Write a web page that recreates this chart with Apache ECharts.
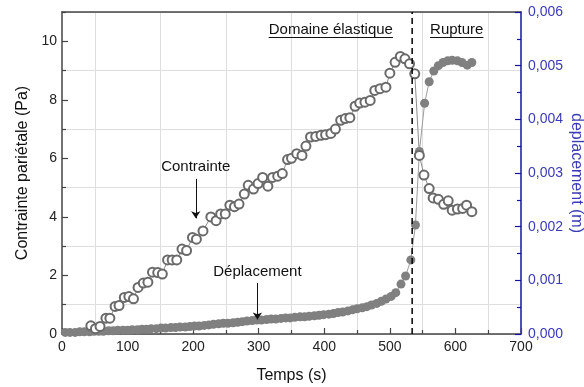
<!DOCTYPE html>
<html>
<head>
<meta charset="utf-8">
<script src="https://cdn.jsdelivr.net/npm/echarts@6/dist/echarts.min.js"></script>
<style>
  html, body { margin: 0; padding: 0; background: #ffffff; }
  #chart { width: 584px; height: 387px; }
</style>
</head>
<body>
<div id="chart"></div>
<script>
// Contrainte pariétale (Pa) en fonction du temps (s)
const contrainteTemps = [44, 51, 58, 67, 73, 81, 87, 95, 102, 109, 116, 124, 131, 138, 146, 153, 161, 168, 175,
  183, 190, 199, 205, 215, 227, 235, 242, 249, 256, 263, 270, 278, 284, 292, 299, 306, 314, 321, 329, 336,
  344, 350, 358, 366, 372, 379, 387, 395, 402, 410, 417, 425, 432, 439, 447, 454, 462, 470, 477, 485, 494,
  500, 508, 516, 523, 530, 538, 545, 552, 560, 566, 574, 582, 589, 595, 603, 611, 617, 625];
const contrainteValeurs = [0.28, 0.18, 0.26, 0.54, 0.54, 0.94, 0.97, 1.25, 1.28, 1.2, 1.59, 1.74, 1.77, 2.11, 2.1, 2.05, 2.53, 2.53, 2.53,
  2.9, 2.85, 3.3, 3.24, 3.52, 4.0, 3.87, 4.1, 4.1, 4.4, 4.35, 4.44, 4.78, 5.08, 4.95, 5.14, 5.35, 5.05, 5.35, 5.39, 5.48,
  5.96, 6.0, 6.16, 6.1, 6.42, 6.73, 6.75, 6.79, 6.81, 6.85, 7.0, 7.3, 7.36, 7.39, 7.78, 7.89, 7.92, 7.98, 8.32, 8.38, 8.43,
  8.91, 9.28, 9.48, 9.4, 9.23, 8.89, 6.1, 5.43, 4.97, 4.65, 4.6, 4.43, 4.55, 4.23, 4.27, 4.29, 4.4, 4.18];

// Déplacement (m) en fonction du temps (s)
const deplTemps = [5, 12, 20, 27, 34, 42, 49, 56, 63, 71, 78, 85, 93, 100, 107, 115, 122, 129, 136, 144,
  151, 158, 166, 173, 180, 188, 195, 202, 209, 217, 224, 231, 239, 246, 253, 261, 268, 275, 282, 290,
  297, 304, 312, 319, 326, 334, 341, 348, 355, 363, 370, 377, 385, 392, 399, 407, 414, 421, 428, 436,
  443, 450, 458, 465, 472, 480, 487, 494, 502, 509, 517, 524, 532, 539, 545, 553, 560, 567, 574, 581,
  588, 595, 603, 610, 618, 625];
const deplValeurs = [0.00003, 0.00003, 0.00003, 0.00004, 0.00004, 0.00004, 0.00005, 0.00005, 0.00005, 0.00006,
  0.00006, 0.00007, 0.00007, 0.00007, 0.00008, 0.00008, 0.00009, 0.00009, 0.0001, 0.0001,
  0.00011, 0.00011, 0.00012, 0.00012, 0.00013, 0.00013, 0.00014, 0.00015, 0.00015, 0.00016,
  0.00017, 0.00018, 0.00019, 0.0002, 0.0002, 0.00021, 0.00022, 0.00023, 0.00024, 0.00025,
  0.00026, 0.00026, 0.00027, 0.00028, 0.00028, 0.00029, 0.0003, 0.0003, 0.00031, 0.00032,
  0.00032, 0.00033, 0.00034, 0.00035, 0.00036, 0.00037, 0.00038, 0.0004, 0.00041, 0.00043,
  0.00045, 0.00047, 0.00049, 0.00051, 0.00054, 0.00057, 0.00061, 0.00065, 0.0007, 0.00077,
  0.00093, 0.00108, 0.00138, 0.00203, 0.0034, 0.0043, 0.0047, 0.0049, 0.005, 0.00506,
  0.00509, 0.0051, 0.00509, 0.00506, 0.00501, 0.00506];

// Instant de rupture (s)
const tempsRupture = 534;

// Libellés de l'axe droit
const deplTickLabels = ['0,000', '0,001', '0,002', '0,003', '0,004', '0,005', '0,006'];

// Flèches d'annotation : [temps, début, fin]
const flecheContrainte = [204, 5.3, 3.95];
const flecheDepl = [298, 0.00095, 0.00027];

// Titres des deux domaines : [texte, temps du centre]
const titresDomaines = [['Domaine élastique', 410], ['Rupture', 602]];

const FONT = '"Liberation Sans", Arial, sans-serif';
const AXIS_COLOR = '#444';
const BLUE = '#1414a0';
const BLUE_TEXT = '#3b3bb5';
const GRID_COLOR = '#dedede';

const chart = echarts.init(document.getElementById('chart'), null, { renderer: 'canvas' });

chart.setOption({
  animation: false,
  backgroundColor: '#ffffff',
  textStyle: { fontFamily: FONT },
  grid: { left: 62, right: 63, top: 12, bottom: 53, containLabel: false, outerBoundsMode: 'none' },
  xAxis: [
    {
      type: 'value', position: 'bottom', min: 0, max: 700, interval: 100,
      name: 'Temps (s)', nameLocation: 'middle', nameGap: 34,
      nameTextStyle: { fontSize: 16, color: '#111', fontFamily: FONT },
      axisLine: { show: true, onZero: false, lineStyle: { color: AXIS_COLOR, width: 1.5 } },
      axisTick: { show: true, inside: true, length: 6, lineStyle: { color: AXIS_COLOR, width: 1.2 } },
      minorTick: { show: true, splitNumber: 2, length: 4, lineStyle: { color: AXIS_COLOR, width: 1.2 } },
      minorSplitLine: { show: true, lineStyle: { color: GRID_COLOR, width: 1 } },
      splitLine: { show: false },
      axisLabel: { fontSize: 14, color: '#222', margin: 6, fontFamily: FONT }
    },
    {
      type: 'value', position: 'top', min: 0, max: 700,
      axisLine: { show: true, onZero: false, lineStyle: { color: AXIS_COLOR, width: 1.5 } },
      axisTick: { show: false }, axisLabel: { show: false }, splitLine: { show: false }
    }
  ],
  yAxis: [
    {
      type: 'value', position: 'left', min: 0, max: 11, interval: 2,
      name: 'Contrainte pariétale (Pa)', nameLocation: 'middle', nameGap: 30,
      nameTextStyle: { fontSize: 16, color: '#111', fontFamily: FONT },
      axisLine: { show: true, onZero: false, lineStyle: { color: AXIS_COLOR, width: 1.5 } },
      axisTick: { show: true, inside: true, length: 6, lineStyle: { color: AXIS_COLOR, width: 1.2 } },
      splitLine: { show: false },
      axisLabel: { fontSize: 14, color: '#222', margin: 5, showMaxLabel: false, fontFamily: FONT }
    },
    {
      type: 'value', position: 'right', min: 0, max: 0.006, interval: 0.001,
      axisLine: { show: true, onZero: false, lineStyle: { color: BLUE, width: 1.5 } },
      axisTick: { show: true, inside: true, length: 6, lineStyle: { color: BLUE, width: 1.2 } },
      minorTick: { show: true, splitNumber: 2, length: 4, lineStyle: { color: BLUE, width: 1.2 } },
      splitLine: { show: false },
      axisLabel: {
        fontSize: 14, color: BLUE_TEXT, margin: 7, fontFamily: FONT,
        formatter: (v) => deplTickLabels[Math.round(v * 1000)]
      }
    },
    {
      // axe inversé, gradué depuis le haut : graduations intermédiaires et
      // quadrillage aux valeurs impaires de la contrainte (11 - 2k)
      type: 'value', position: 'left', inverse: true, min: 0, max: 11, interval: 2,
      axisLine: { show: false },
      axisTick: { show: true, inside: true, length: 4, lineStyle: { color: AXIS_COLOR, width: 1.2 } },
      axisLabel: { show: false },
      splitLine: { show: true, lineStyle: { color: GRID_COLOR, width: 1 } }
    }
  ],
  series: [
    {
      name: 'Déplacement', type: 'line', xAxisIndex: 0, yAxisIndex: 1,
      data: deplTemps.map((t, i) => [t, deplValeurs[i]]),
      symbol: 'circle', symbolSize: 9,
      itemStyle: { color: '#808080' },
      lineStyle: { color: '#9c9c9c', width: 1 },
      z: 3,
      markLine: {
        silent: true, symbol: ['none', 'arrow'], symbolSize: 7,
        lineStyle: { color: '#111', width: 1, type: 'solid' },
        label: { show: true, position: 'start', formatter: 'Déplacement', fontSize: 15, color: '#111', distance: 4, fontFamily: FONT },
        data: [[{ coord: [flecheDepl[0], flecheDepl[1]] }, { coord: [flecheDepl[0], flecheDepl[2]] }]]
      }
    },
    {
      name: 'Contrainte', type: 'line', xAxisIndex: 0, yAxisIndex: 0,
      data: contrainteTemps.map((t, i) => [t, contrainteValeurs[i]]),
      symbol: 'emptyCircle', symbolSize: 9,
      itemStyle: { color: '#6a6a6a', borderWidth: 1 },
      lineStyle: { color: '#8c8c8c', width: 1 },
      z: 4,
      markLine: {
        silent: true, symbol: ['none', 'arrow'], symbolSize: 7,
        lineStyle: { color: '#111', width: 1, type: 'solid' },
        label: { show: true, position: 'start', formatter: 'Contrainte', fontSize: 15, color: '#111', distance: 4, fontFamily: FONT },
        data: [[{ coord: [flecheContrainte[0], flecheContrainte[1]] }, { coord: [flecheContrainte[0], flecheContrainte[2]] }]]
      }
    },
    {
      name: 'Rupture', type: 'line', xAxisIndex: 0, yAxisIndex: 0,
      data: [[tempsRupture, 0], [tempsRupture, 11]],
      symbol: 'none',
      lineStyle: { color: '#000', width: 1.5, type: [6, 4] },
      z: 5
    }
  ]
});

// Titres soulignés des deux domaines et titre de l'axe droit (lu de haut en bas)
(function placerTextes() {
  const ctx = document.createElement('canvas').getContext('2d');
  ctx.font = '15px ' + FONT;
  const yTexte = 30;
  const elements = [];
  titresDomaines.forEach(([texte, t]) => {
    const xc = chart.convertToPixel({ xAxisIndex: 0 }, t);
    const w = ctx.measureText(texte).width;
    elements.push({
      type: 'text', x: xc, y: yTexte, z: 10,
      style: { text: texte, fontSize: 15, fontFamily: FONT, fill: '#111', align: 'center', verticalAlign: 'middle' }
    });
    elements.push({
      type: 'line', z: 10,
      shape: { x1: xc - w / 2, y1: yTexte + 7.5, x2: xc + w / 2, y2: yTexte + 7.5 },
      style: { stroke: '#111', lineWidth: 1.2 }
    });
  });
  const yMilieu = chart.convertToPixel({ yAxisIndex: 1 }, 0.003);
  elements.push({
    type: 'text', x: 576, y: yMilieu, rotation: -Math.PI / 2, z: 10,
    style: { text: 'deplacement (m)', fontSize: 16, fontFamily: FONT, fill: BLUE_TEXT, align: 'center', verticalAlign: 'middle' }
  });
  chart.setOption({ graphic: elements });
})();
</script>
</body>
</html>
